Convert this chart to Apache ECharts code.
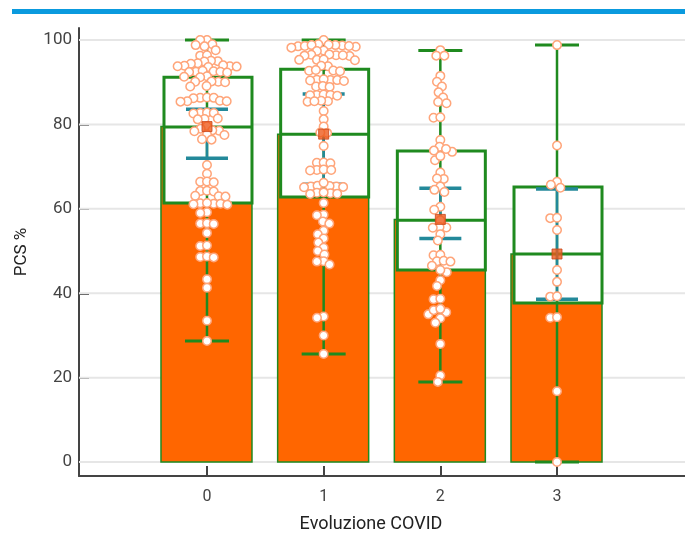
<!DOCTYPE html>
<html><head><meta charset="utf-8">
<script src="https://cdn.jsdelivr.net/npm/echarts@6/dist/echarts.min.js"></script>
<style>html,body{margin:0;padding:0;background:#fff}#c{width:685px;height:535px}</style>
</head><body><div id="c"></div>
<script>
const categories = ['0', '1', '2', '3'];
const means = [79.5, 77.7, 57.5, 49.3];
const medians = [79.4, 77.7, 57.3, 49.3];
const q1 = [61.4, 62.8, 45.5, 37.7];
const q3 = [91.2, 93.1, 73.7, 65.2];
const whiskLow = [28.7, 25.6, 19.0, 0];
const whiskHigh = [100, 100, 97.5, 98.8];
const ciLow = [72.0, 65.8, 53.0, 38.6];
const ciHigh = [83.6, 87.2, 64.9, 64.7];

const points0 = [100, 100, 98.8, 99.0, 98.5, 97.6, 96.3, 96.4, 95.0, 95.1, 94.9, 94.5, 94.4,
  93.8, 93.9, 93.7, 93.8, 94.0, 93.6, 92.5, 92.6, 92.4, 92.5, 92.7, 92.3, 91.3, 91.4, 91.2,
  90.1, 90.2, 90.0, 90.1, 89.0, 89.1, 86.3, 86.4, 86.2, 86.3, 85.5, 85.6, 85.4, 85.5,
  82.7, 82.8, 82.6, 82.7, 81.3, 81.4, 81.2, 79.6, 79.0, 78.5, 78.6, 78.4, 77.5, 77.6,
  76.5, 76.4, 70.4, 68.3, 66.4, 66.5, 66.3, 64.2, 64.3, 64.1, 63.0, 63.1, 62.9,
  61.2, 61.3, 61.1, 61.2, 61.0, 61.4, 59.2, 59.0, 56.5, 56.6, 56.4, 54.3, 51.2, 51.3,
  48.6, 48.7, 48.5, 43.3, 41.3, 33.5, 28.7];
const points1 = [100, 98.5, 98.6, 98.7, 98.8, 98.9, 99.0, 98.4, 98.6, 98.8, 98.2, 97.5, 97.4,
  96.4, 96.2, 96.6, 96.5, 96.3, 96.4, 95.3, 95.2, 95.4, 95.3, 93.8, 93.9, 92.7, 92.8, 92.6, 92.9,
  90.5, 90.6, 90.4, 90.5, 90.7, 90.3, 89.0, 89.1, 88.9, 87.0, 87.1, 86.9, 87.0, 86.8,
  85.5, 85.6, 85.4, 85.5, 83.2, 81.2, 79.5, 78.0, 78.1, 74.9, 70.9, 71.0, 70.8,
  69.2, 69.3, 69.1, 69.2, 65.3, 65.4, 65.2, 65.3, 65.5, 65.1, 66.2, 63.7, 63.8, 63.6, 63.9, 63.5,
  61.4, 58.6, 58.5, 57.0, 56.5, 54.8, 54.0, 53.0, 52.0, 50.8, 50.0, 49.2, 47.6, 47.5, 46.8,
  34.5, 34.2, 30.0, 25.6];
const points2 = [97.6, 96.3, 96.3, 91.5, 90.1, 89.0, 87.6, 86.4, 85.3, 85.0, 81.6, 81.7,
  76.3, 74.7, 73.5, 73.8, 74.2, 71.5, 72.5, 68.6, 67.1, 67.2, 65.3, 64.0, 64.5, 60.5, 59.8,
  57.3, 55.6, 55.7, 55.5, 54.0, 52.5, 49.0, 49.1, 47.6, 47.7, 47.5, 45.0, 45.5, 46.5,
  43.1, 41.7, 38.6, 38.7, 35.0, 35.5, 36.0, 36.3, 34.1, 33.0, 28.0, 20.5, 19.0];
const points3 = [98.8, 75.0, 66.4, 65.7, 65.0, 57.8, 57.9, 55.0, 45.5, 42.7, 39.2, 39.3,
  34.2, 34.3, 16.8, 0];
const pointSets = [points0, points1, points2, points3];

const yTicks = [0, 20, 40, 60, 80, 100];
const yMinorTicks = [10, 30, 50, 70, 90];
const xTicks = [0, 1, 2, 3];

const GREEN = '#1f8a1f', ORANGE = '#ff6600', TEAL = '#23899a';
const X_MIN = -1.097, X_MAX = 4.097, Y_MIN = -3.3, Y_MAX = 102.85;

const boxData = categories.map((c, i) => [i, means[i], q1[i], medians[i], q3[i], whiskLow[i], whiskHigh[i], ciLow[i], ciHigh[i]]);

function renderBox(params, api) {
  const i = api.value(0);
  const x = api.coord([i, 0])[0];
  const y0 = api.coord([i, 0])[1];
  const Y = k => api.coord([i, api.value(k)])[1];
  const yMean = Y(1), yQ1 = Y(2), yMed = Y(3), yQ3 = Y(4), yWL = Y(5), yWH = Y(6), yCL = Y(7), yCH = Y(8);
  const line = (x1, y1, x2, y2, color, w) => ({ type: 'line', shape: { x1, y1, x2, y2 }, style: { stroke: color, lineWidth: w } });
  return {
    type: 'group',
    children: [
      { type: 'rect', shape: { x: x - 46, y: yMean, width: 91, height: y0 - yMean }, style: { fill: ORANGE, stroke: GREEN, lineWidth: 1.5 } },
      { type: 'rect', shape: { x: x - 43, y: yQ3, width: 88, height: yQ1 - yQ3 }, style: { fill: '#ffffff', stroke: GREEN, lineWidth: 3 } },
      line(x - 43, yMed, x + 45, yMed, GREEN, 3),
      line(x, yWL, x, yWH, GREEN, 2.5),
      line(x - 22, yWL, x + 22, yWL, GREEN, 3),
      line(x - 22, yWH, x + 22, yWH, GREEN, 3),
      line(x, yCL, x, yCH, TEAL, 2.5),
      line(x - 21, yCL, x + 21, yCL, TEAL, 3.5),
      line(x - 21, yCH, x + 21, yCH, TEAL, 3.5)
    ]
  };
}

function renderGrid(params, api) {
  const v = api.value(0);
  const a = api.coord([X_MIN, v]), b = api.coord([X_MAX, v]);
  return { type: 'line', shape: { x1: a[0], y1: a[1], x2: b[0], y2: b[1] }, style: { stroke: '#e6e6e6', lineWidth: 2 } };
}

const chart = echarts.init(document.getElementById('c'));
const axisText = { color: '#444', fontSize: 17, fontFamily: 'Roboto' };
chart.setOption({
  animation: false,
  graphic: [{ type: 'rect', left: 12, top: 9, shape: { width: 673, height: 5 }, style: { fill: '#0a9ade' } }],
  grid: { left: 79, right: 0, top: 28, bottom: 59, containLabel: false, outerBoundsMode: 'none' },
  xAxis: {
    type: 'value', min: X_MIN, max: X_MAX,
    name: 'Evoluzione COVID', nameLocation: 'middle', nameGap: 39,
    nameTextStyle: { color: '#222', fontSize: 18, fontFamily: 'Roboto', padding: [0, 22, 0, 0] },
    axisLine: { show: true, onZero: false, lineStyle: { color: '#444', width: 2 } },
    axisTick: { show: true, inside: true, length: 10, customValues: xTicks, lineStyle: { color: '#444', width: 2 } },
    axisLabel: { ...axisText, fontSize: 16, margin: 13, customValues: xTicks, formatter: v => categories[Math.round(v)] },
    splitLine: { show: false }
  },
  yAxis: [{
    type: 'value', min: Y_MIN, max: Y_MAX,
    name: 'PCS %', nameLocation: 'middle', nameGap: 49,
    nameTextStyle: { color: '#222', fontSize: 17, fontFamily: 'Roboto' },
    axisLine: { show: true, onZero: false, lineStyle: { color: '#444', width: 2 } },
    axisTick: { show: true, inside: true, length: 10, customValues: yTicks, lineStyle: { color: '#444', width: 2 } },
    axisLabel: { ...axisText, margin: 7, customValues: yTicks },
    splitLine: { show: false }
  }, {
    type: 'value', min: Y_MIN, max: Y_MAX, position: 'left',
    axisLine: { show: false },
    axisTick: { show: true, inside: true, length: 4, customValues: yMinorTicks, lineStyle: { color: '#444', width: 2 } },
    axisLabel: { show: false },
    splitLine: { show: false }
  }],
  series: [
    { id: 'grid', type: 'custom', z: 1, silent: true, renderItem: renderGrid, data: yTicks.map(v => [v]), encode: { y: 0 } },
    { id: 'box', type: 'custom', z: 2, silent: true, renderItem: renderBox, data: boxData, encode: { x: 0, y: [1, 2, 3, 4, 5, 6, 7, 8] } },
    { id: 'dots', type: 'scatter', z: 3, symbol: 'circle', symbolSize: 8.5, itemStyle: { color: '#ffffff', borderColor: '#ffa57a', borderWidth: 1.5, opacity: 1 }, data: [] },
    { id: 'mean', type: 'scatter', z: 4, symbol: 'rect', symbolSize: 10, itemStyle: { color: '#ee5a1c', borderColor: '#c8461a', borderWidth: 1 }, data: means.map((m, i) => [i, m]) }
  ]
});

const pxX = chart.convertToPixel({ xAxisIndex: 0 }, 1) - chart.convertToPixel({ xAxisIndex: 0 }, 0);
function swarm(values, catIdx) {
  const D = 6.8;
  const placed = [];
  const out = [];
  const order = values.map((v, i) => i).sort((a, b) => values[b] - values[a]);
  order.forEach(i => {
    const y = chart.convertToPixel({ yAxisIndex: 0 }, values[i]);
    const cands = [0];
    placed.forEach(p => {
      const dy = Math.abs(p.y - y);
      if (dy < D) { const dx = Math.sqrt(D * D - dy * dy); cands.push(p.x + dx, p.x - dx); }
    });
    cands.sort((a, b) => Math.abs(a) - Math.abs(b) || a - b);
    let best = 0;
    for (const c of cands) {
      if (placed.every(p => (p.x - c) ** 2 + (p.y - y) ** 2 >= D * D - 0.01)) { best = c; break; }
    }
    placed.push({ x: best, y });
    out[i] = [catIdx + best / pxX, values[i]];
  });
  return out;
}
const dots = [];
pointSets.forEach((set, ci) => swarm(set, ci).forEach(d => dots.push(d)));
chart.setOption({ series: [{ id: 'dots', data: dots }] });
</script>
</body></html>
